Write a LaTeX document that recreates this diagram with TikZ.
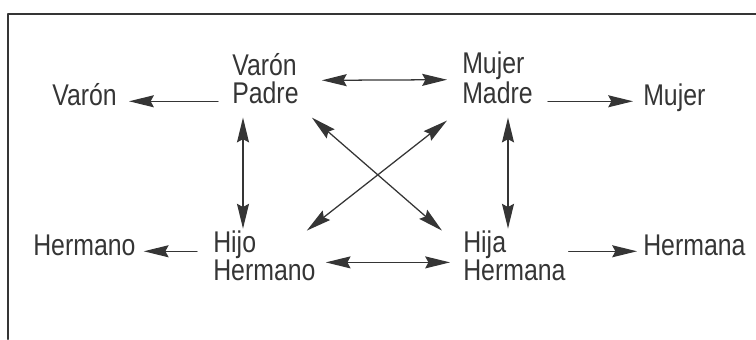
\documentclass[tikz,border=0pt]{standalone}
\usepackage{fontspec}
\setmainfont{Liberation Sans}[FakeStretch=0.83]
\usetikzlibrary{arrows.meta}

\definecolor{inkgray}{HTML}{353535}

\begin{document}
\begin{tikzpicture}[line cap=round,line join=round,x=1cm,y=1cm,
    lbl/.style={inner sep=0pt,anchor=base west,align=left,text=inkgray,
      font=\fontsize{21.3}{19.5}\selectfont},
    tip/.style={draw=inkgray,line width=0.9pt,
      -{Stealth[length=0.62cm,width=0.3cm,inset=0.08cm]}},
    tips/.style={draw=inkgray,line width=0.9pt,
      {Stealth[length=0.62cm,width=0.3cm,inset=0.08cm]}-{Stealth[length=0.62cm,width=0.3cm,inset=0.08cm]}}]
				\useasboundingbox (0,0) rectangle (18.9,8.475);
				\draw [line width=1.5pt,color=inkgray] (18.9,8.125)-- (0.2,8.125)-- (0.2,0.);
				\node[lbl] (varon) at (1.3,5.85) {Varón};
				\node[lbl] (padre) at (5.8,5.9) {Varón\\Padre};
				\node[lbl] (madre) at (11.55,5.9) {Mujer\\Madre};
				\node[lbl] (mujer) at (16.075,5.85) {Mujer};
				\node[lbl] (hermano) at (0.825,2.1) {Hermano};
				\node[lbl] (hijo) at (5.325,1.475) {Hijo\\Hermano};
				\node[lbl] (hija) at (11.575,1.475) {Hija\\Hermana};
				\node[lbl] (hermana) at (16.075,2.1) {Hermana};
				\draw [tip,shorten <=0.35cm,shorten >=0.3cm] (padre.west |- varon.mid east)-- (varon.mid east);
				\draw [tip,shorten <=0.375cm,shorten >=0.25cm] (madre.east |- mujer.mid west)-- (mujer.mid west);
				\draw [tips,shorten <=0.575cm,shorten >=0.375cm] ([yshift=-0.05cm]padre.east)-- ([yshift=-0.05cm]madre.west);
				\draw [tips,shorten <=0.25cm,shorten >=0.325cm] ([yshift=-0.17cm]hijo.east)-- ([yshift=-0.17cm]hija.west);
				\draw [tip,shorten <=0.4cm,shorten >=0.2cm] (hijo.west |- hermano.mid east)-- (hermano.mid east);
				\draw [tip,shorten <=0.075cm,shorten >=0.15cm] (hija.east |- hermana.mid west)-- (hermana.mid west);
				\draw [tips,shorten <=0.35cm,shorten >=0.05cm] ([xshift=0.275cm]padre.south west)-- ([xshift=0.275cm]padre.south west |- hijo.north);
				\draw [tips,shorten <=0.35cm,shorten >=0.05cm] ([xshift=1.15cm]madre.south west)-- ([xshift=1.15cm]madre.south west |- hija.north);
				\draw [tips] ([shift={(0.325cm,-0.35cm)}]padre.south east)-- ([xshift=-0.525cm]hija.north west);
				\draw [tips] ([shift={(-0.375cm,-0.425cm)}]madre.south west)-- ([xshift=-0.225cm]hijo.north east);
\end{tikzpicture}
\end{document}
